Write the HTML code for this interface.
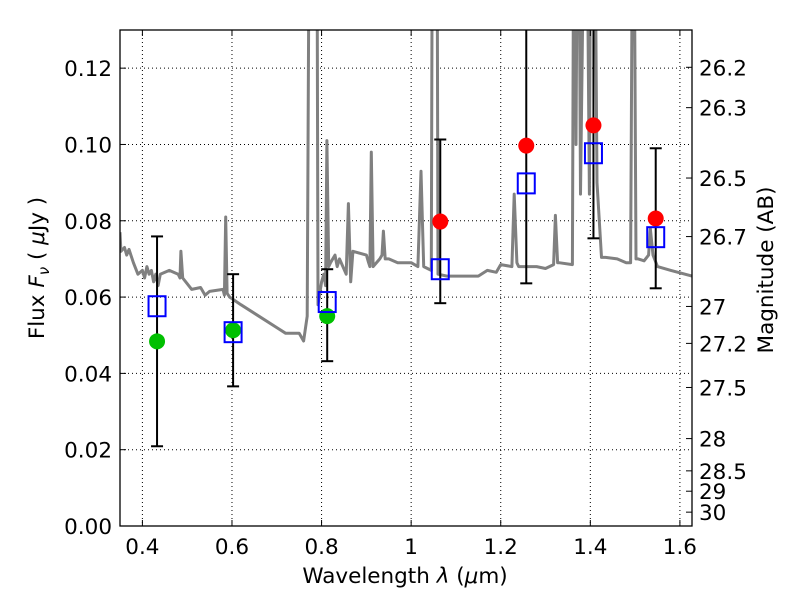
<!DOCTYPE html>
<html><head><meta charset="utf-8"><style>
body{margin:0;background:#fff;}
svg{font-family:"DejaVu Sans","Liberation Sans",sans-serif;}
</style></head><body>
<svg id="chart" width="800" height="600" viewBox="0 0 800 600" xmlns="http://www.w3.org/2000/svg">
<defs><clipPath id="clip"><rect x="120" y="30" width="572" height="496"/></clipPath></defs>
<rect x="0" y="0" width="800" height="600" fill="#fff"/>
<g id="grid"></g>
<g id="spec" clip-path="url(#clip)"></g>
<g id="marks" clip-path="url(#clip)"></g>
<rect x="120" y="30" width="572" height="496" fill="none" stroke="#000" stroke-width="1.3"/>
<g id="axes"></g>
<text x="405" y="583" font-size="21.5" text-anchor="middle">Wavelength  <tspan font-style="italic">λ</tspan> (<tspan font-style="italic">μ</tspan>m)</text>
<text transform="translate(44,268) rotate(-90)" font-size="21.5" text-anchor="middle">Flux  <tspan font-style="italic">F</tspan><tspan font-style="italic" font-size="15" dy="5">ν</tspan><tspan dy="-5">  (  </tspan><tspan font-style="italic">μ</tspan>Jy )</text>
<text transform="translate(773,270) rotate(-90)" font-size="21.5" text-anchor="middle">Magnitude (AB)</text>
</svg>
<script>
const xTicks=[0.4,0.6,0.8,1.0,1.2,1.4,1.6];
const xTickLabels=["0.4","0.6","0.8","1","1.2","1.4","1.6"];
const yTicks=[0,0.02,0.04,0.06,0.08,0.10,0.12];
const yTickLabels=["0.00","0.02","0.04","0.06","0.08","0.10","0.12"];
const magTicks=[26.2,26.3,26.5,26.7,27,27.2,27.5,28,28.5,29,30];
const magTickLabels=["26.2","26.3","26.5","26.7","27","27.2","27.5","28","28.5","29","30"];
const specLam=[0.35,0.352,0.36,0.365,0.37,0.38,0.39,0.40,0.405,0.41,0.415,0.42,0.425,0.43,0.435,0.44,0.46,0.48,0.484,0.486,0.49,0.50,0.51,0.53,0.54,0.55,0.58,0.583,0.586,0.589,0.595,0.62,0.66,0.70,0.72,0.75,0.76,0.768,0.774,0.777,0.783,0.789,0.792,0.80,0.805,0.809,0.812,0.816,0.82,0.83,0.835,0.84,0.855,0.86,0.865,0.87,0.90,0.905,0.908,0.911,0.915,0.93,0.935,0.938,0.942,0.95,0.97,1.0,1.015,1.022,1.028,1.045,1.048,1.052,1.057,1.06,1.08,1.10,1.15,1.17,1.19,1.20,1.225,1.23,1.236,1.24,1.28,1.30,1.318,1.322,1.327,1.33,1.36,1.364,1.368,1.373,1.378,1.39,1.398,1.402,1.408,1.415,1.425,1.434,1.46,1.48,1.49,1.496,1.502,1.507,1.52,1.53,1.534,1.54,1.55,1.58,1.627];
const specFlux=[0.077,0.072,0.073,0.071,0.0725,0.069,0.066,0.067,0.065,0.068,0.066,0.067,0.064,0.066,0.063,0.066,0.067,0.066,0.065,0.072,0.065,0.0635,0.062,0.0625,0.0605,0.0615,0.062,0.0605,0.081,0.061,0.060,0.058,0.055,0.052,0.0505,0.0505,0.0485,0.055,0.2,0.2,0.2,0.2,0.058,0.064,0.066,0.063,0.101,0.068,0.069,0.071,0.068,0.070,0.066,0.0845,0.064,0.072,0.071,0.069,0.068,0.098,0.068,0.070,0.071,0.0773,0.070,0.070,0.069,0.069,0.068,0.093,0.068,0.067,0.2,0.2,0.2,0.066,0.0655,0.0655,0.0655,0.067,0.0665,0.0685,0.068,0.087,0.069,0.068,0.068,0.0675,0.0685,0.0814,0.069,0.069,0.0685,0.2,0.1,0.2,0.087,0.2,0.087,0.2,0.2,0.09,0.0704,0.0704,0.070,0.069,0.069,0.2,0.070,0.070,0.0695,0.071,0.078,0.071,0.068,0.067,0.0655];
const bandLam=[0.4327,0.6025,0.8126,1.065,1.257,1.407,1.546];
const modelFlux=[0.0576,0.0508,0.0587,0.0673,0.0898,0.0977,0.0757];
const obsFlux=[0.0484,0.0513,0.0550,0.0798,0.0997,0.1050,0.0806];
const errLow=[0.0209,0.0366,0.0432,0.0584,0.0636,0.0754,0.0623];
const errHigh=[0.0759,0.0660,0.0673,0.1013,0.1400,0.1400,0.0990];
const obsColor=["#00c000","#00c000","#00c000","#ff0000","#ff0000","#ff0000","#ff0000"];

const NS="http://www.w3.org/2000/svg";
const X0=120,X1=692,Y0=526,Y1=30,LMIN=0.35,LMAX=1.627,FMAX=0.13;
const sx=l=>X0+(l-LMIN)/(LMAX-LMIN)*(X1-X0);
const sy=f=>Y0-f/FMAX*(Y0-Y1);
function mk(tag,attrs,parent){const e=document.createElementNS(NS,tag);for(const k in attrs)e.setAttribute(k,attrs[k]);parent.appendChild(e);return e;}
const grid=document.getElementById('grid'),axes=document.getElementById('axes'),spec=document.getElementById('spec'),marks=document.getElementById('marks');
xTicks.forEach((t,i)=>{const x=sx(t);
 let g=mk('line',{x1:x,x2:x,y1:Y1,y2:Y0,stroke:'#000','stroke-width':1,'stroke-dasharray':'1,3'},grid);
 
 let a=mk('line',{x1:x,x2:x,y1:Y0,y2:Y0-6,stroke:'#000'},axes);
 let b=mk('line',{x1:x,x2:x,y1:Y1,y2:Y1+6,stroke:'#000'},axes);
 let tx=mk('text',{x:x,y:554,'font-size':21.5,'text-anchor':'middle'},axes);tx.textContent=xTickLabels[i];
 });
yTicks.forEach((t,i)=>{const y=sy(t);
 let g=mk('line',{x1:X0,x2:X1,y1:y,y2:y,stroke:'#000','stroke-width':1,'stroke-dasharray':'1,3'},grid);
 
 let a=mk('line',{x1:X0,x2:X0+6,y1:y,y2:y,stroke:'#000'},axes);
 let tx=mk('text',{x:112,y:y+8,'font-size':21.5,'text-anchor':'end'},axes);tx.textContent=yTickLabels[i];
 });
magTicks.forEach((m,i)=>{const y=sy(Math.pow(10,(23.9-m)/2.5));
 let a=mk('line',{x1:X1,x2:X1-6,y1:y,y2:y,stroke:'#000'},axes);
 let tx=mk('text',{x:699,y:y+8,'font-size':21.5},axes);tx.textContent=magTickLabels[i];
 });
const pts=specLam.map((l,i)=>sx(l).toFixed(1)+','+sy(specFlux[i]).toFixed(1)).join(' ');
const pl=mk('polyline',{points:pts,fill:'none',stroke:'#808080','stroke-width':3,'stroke-linejoin':'round'},spec);

bandLam.forEach((l,i)=>{const x=sx(l);
 const eb=mk('g',{},marks);
 mk('line',{x1:x,x2:x,y1:sy(errLow[i]),y2:sy(errHigh[i]),stroke:'#000','stroke-width':2},eb);
 mk('line',{x1:x-6,x2:x+6,y1:sy(errLow[i]),y2:sy(errLow[i]),stroke:'#000','stroke-width':2},eb);
 mk('line',{x1:x-6,x2:x+6,y1:sy(errHigh[i]),y2:sy(errHigh[i]),stroke:'#000','stroke-width':2},eb);
 const c=mk('circle',{cx:x,cy:sy(obsFlux[i]),r:8,fill:obsColor[i]},marks);
 
 const s=mk('rect',{x:x-8.5,y:sy(modelFlux[i])-10,width:17,height:20,fill:'none',stroke:'#0000ff','stroke-width':2},marks);
 });
</script>
</body></html>
